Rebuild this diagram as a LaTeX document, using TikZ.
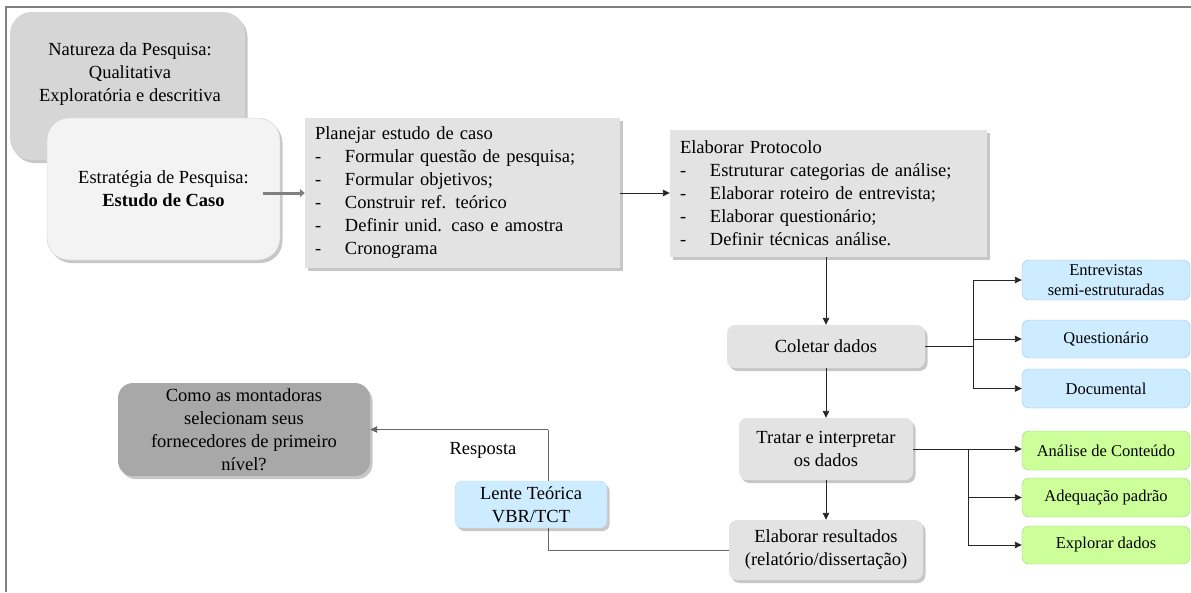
\documentclass[tikz,border=0pt]{standalone}
\usepackage{fontspec}
\setmainfont{Liberation Serif}
\usetikzlibrary{arrows.meta,shadows,calc}

\definecolor{natfill}{RGB}{214,214,214}
\definecolor{estfill}{RGB}{243,243,243}
\definecolor{stepfill}{RGB}{227,227,227}
\definecolor{askfill}{RGB}{168,168,168}
\definecolor{bluefill}{RGB}{205,236,255}
\definecolor{blueline}{RGB}{150,196,235}
\definecolor{greenfill}{RGB}{204,255,153}
\definecolor{greenline}{RGB}{160,210,120}
\definecolor{framegray}{RGB}{128,128,128}

\tikzset{
  shade3/.style={drop shadow={shadow xshift=2.5pt,shadow yshift=-3pt,fill=black,opacity=0.22}},
  basebox/.style={inner sep=0pt,font=\rmfamily\fontsize{18.5}{23}\selectfont,align=center},
  natbox/.style={basebox,fill=natfill,rounded corners=22pt,shade3},
  estbox/.style={basebox,fill=estfill,draw=black!18,rounded corners=22pt,shade3},
  listbox/.style={basebox,fill=stepfill,shade3,align=left},
  stepbox/.style={basebox,fill=stepfill,rounded corners=8pt,shade3},
  askbox/.style={basebox,fill=askfill,rounded corners=15pt,shade3},
  lensbox/.style={basebox,fill=bluefill,draw=blueline!60,rounded corners=7pt,shade3},
  bluebox/.style={basebox,font=\rmfamily\fontsize{16.5}{20}\selectfont,fill=bluefill,draw=blueline,rounded corners=7pt},
  greenbox/.style={basebox,font=\rmfamily\fontsize{16.5}{20}\selectfont,fill=greenfill,draw=greenline,rounded corners=7pt},
  plain/.style={basebox},
  link/.style={draw=black!85,line width=0.9pt},
  arr/.style={link,-{Triangle[length=7pt,width=6.5pt]}},
  thickarr/.style={draw=framegray,line width=3pt,-{Triangle[length=5pt,width=8pt]}},
}
\newcommand{\itm}[2]{\makebox[#1][l]{-}#2}

\begin{document}
\begin{tikzpicture}[x=1pt,y=-1pt]
\useasboundingbox (0,0) rectangle (1191,592);

% outer frame (top and left edges)
\draw[framegray,line width=2pt] (6,592) -- (6,7) -- (1191,7);

% research nature and strategy
\node[natbox,minimum width=235pt,minimum height=148pt] (nat) at (127.5,86) {};
\node[plain] (natt) at (130,74) {Natureza da Pesquisa:\\Qualitativa\\Explorat\'oria e descritiva};
\node[estbox,minimum width=233pt,minimum height=142pt] (est) at (163.5,189)
  {Estrat\'egia de Pesquisa:\\\textbf{Estudo de Caso}};

% planning and protocol
\node[listbox,minimum width=315pt,minimum height=150pt,text width=295pt] (plan) at (462.5,193)
  {Planejar estudo de caso\\
   \itm{30pt}{Formular quest\~ao de pesquisa;}\\
   \itm{30pt}{Formular objetivos;}\\
   \itm{30pt}{Construir ref. te\'orico}\\
   \itm{30pt}{Definir unid. caso e amostra}\\
   \itm{30pt}{Cronograma}};
\node[listbox,minimum width=317pt,minimum height=127pt,text width=297pt] (prot) at (828.5,193.5)
  {Elaborar Protocolo\\
   \itm{30pt}{Estruturar categorias de an\'alise;}\\
   \itm{30pt}{Elaborar roteiro de entrevista;}\\
   \itm{30pt}{Elaborar question\'ario;}\\
   \itm{30pt}{Definir t\'ecnicas an\'alise.}};

% main process steps
\node[stepbox,minimum width=198pt,minimum height=43pt] (col) at (826,346.5) {Coletar dados};
\node[stepbox,minimum width=174pt,minimum height=62pt] (trat) at (826,449) {Tratar e interpretar\\os dados};
\node[stepbox,minimum width=194pt,minimum height=60pt] (res) at (826,550) {Elaborar resultados\\(relat\'orio/disserta\c{c}\~ao)};

% data collection sources
\node[bluebox,minimum width=168pt,minimum height=40pt] (ent) at (1106,280) {Entrevistas\\semi-estruturadas};
\node[bluebox,minimum width=168pt,minimum height=38pt] (que) at (1106,339) {Question\'ario};
\node[bluebox,minimum width=168pt,minimum height=39pt] (doc) at (1106,388.5) {Documental};

% analysis techniques
\node[greenbox,minimum width=168pt,minimum height=39pt] (ana) at (1106,450.5) {An\'alise de Conte\'udo};
\node[greenbox,minimum width=168pt,minimum height=39pt] (adq) at (1106,497.5) {Adequa\c{c}\~ao padr\~ao};
\node[greenbox,minimum width=168pt,minimum height=38pt] (exp) at (1106,545) {Explorar dados};

% research question
\node[askbox,minimum width=252pt,minimum height=93pt] (ask) at (244,429.5)
  {Como as montadoras\\selecionam seus\\fornecedores de primeiro\\n\'ivel?};
\node[plain,fill=white,inner xsep=6pt,inner ysep=3pt] (resp) at (483,450) {Resposta};

% bend points
\coordinate (cx) at (973,0);
\coordinate (tx) at (968,0);
\coordinate (lx) at (548,0);

% connectors
\draw[thickarr] ([xshift=-17pt]est.east |- plan.west) -- (plan.west);
\draw[arr] (plan.east) -- (prot.west |- plan.east);
\draw[arr] (prot.south -| col.north) -- (col.north);
\draw[arr] (col.south) -- (trat.north);
\draw[arr] (trat.south) -- (res.north);

\draw[link] (col.east) -- (col.east -| cx);
\draw[link] (cx |- ent.west) -- (cx |- doc.west);
\draw[arr] (cx |- ent.west) -- (ent.west);
\draw[arr] (cx |- que.west) -- (que.west);
\draw[arr] (cx |- doc.west) -- (doc.west);

\draw[arr] (trat.east) -- (trat.east -| ana.west);
\draw[link] (tx |- trat.east) -- (tx |- exp.west);
\draw[arr] (tx |- adq.west) -- (adq.west);
\draw[arr] (tx |- exp.west) -- (exp.west);

\draw[link,draw=black!60] (res.west) -- (res.west -| lx) -- (lx |- ask.east);
\draw[arr,draw=black!60] (lx |- ask.east) -- (ask.east);

% theoretical lens, sitting over the answer line
\node[lensbox,minimum width=152pt,minimum height=47pt] (lens) at (531,504.5) {Lente Te\'orica\\VBR/TCT};
\end{tikzpicture}
\end{document}
